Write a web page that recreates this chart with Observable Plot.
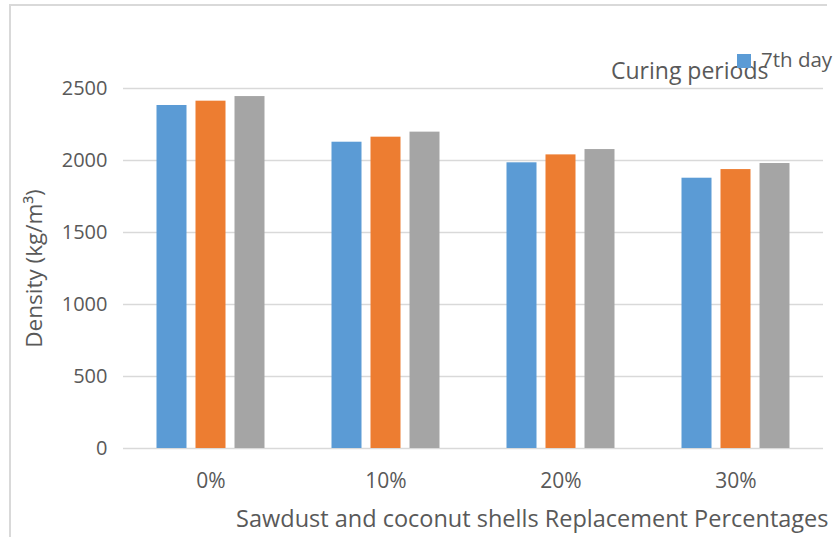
<!DOCTYPE html>
<html>
<head>
<meta charset="utf-8">
<script src="https://cdn.jsdelivr.net/npm/d3@7"></script>
<script src="https://cdn.jsdelivr.net/npm/@observablehq/plot@0.6"></script>
<style>
  html, body { margin: 0; padding: 0; background: #fff; overflow: hidden; }
  #wrap { position: relative; width: 835px; height: 537px; overflow: hidden; font-family: "Open Sans", sans-serif; color: #595959; }
  #frame { position: absolute; left: 9px; top: 4px; width: 816px; height: 600px; border-top: 2px solid #d9d9d9; border-left: 2px solid #d9d9d9; pointer-events: none; }
  #chart { position: absolute; left: 0; top: 0; }
  #chart svg g[aria-label="fx-axis label"] text { font-size: 23.5px; }
  #chart svg g[aria-label="y-axis label"] text { font-size: 22.5px; }
  #chart svg g[aria-label="fx-axis tick label"] text { font-size: 21px; }
  #legend { position: absolute; left: 737px; top: 46px; white-space: nowrap; font-size: 20.5px; line-height: 26px; }
  .item { display: inline-flex; align-items: center; margin-right: 10px; }
  .sw { display: inline-block; width: 14px; height: 14px; margin-right: 10px; margin-top: 3px; }
  #ltitle { position: absolute; left: 611px; top: 56px; font-size: 23px; line-height: 28px; white-space: nowrap; }
</style>
</head>
<body>
<div id="wrap">
  <div id="chart"></div>
  <div id="frame"></div>
  <div id="ltitle"></div>
  <div id="legend"></div>
</div>
<script>
const categories = ["0%", "10%", "20%", "30%"];
const series = ["7th day", "14th day", "28th day"];
const day7 = [2382, 2127, 1984, 1877];
const day14 = [2412, 2162, 2039, 1937];
const day28 = [2444, 2197, 2076, 1979];
const yTicks = [0, 500, 1000, 1500, 2000, 2500];
const colors = ["#5b9bd5", "#ed7d31", "#a5a5a5"];
const legendTitle = "Curing periods";
const legendShown = ["7th day"]; // only this entry is visible in the cropped legend
const xTitle = "Sawdust and coconut shells Replacement Percentages";
const yTitle = "Density (kg/m³)";

const values = [day7, day14, day28];
const data = categories.flatMap((c, i) => series.map((s, j) => ({category: c, series: s, value: values[j][i]})));

const chart = Plot.plot({
  width: 835,
  height: 537,
  marginLeft: 122.5,
  marginRight: 12.5,
  marginTop: 88,
  marginBottom: 89,
  style: {fontFamily: "Open Sans, sans-serif", fontSize: "20px", color: "#595959", background: "transparent"},
  fx: {domain: categories, padding: 0, axis: "bottom", tickSize: 0, tickPadding: 25, label: xTitle, labelAnchor: "right", labelOffset: 78, labelArrow: false},
  x: {domain: series, paddingInner: 9 / 39, paddingOuter: 33.5 / 39, axis: null},
  y: {domain: [0, 2500], ticks: yTicks, tickFormat: d3.format("d"), tickSize: 0, tickPadding: 16, label: yTitle, labelAnchor: "center", labelOffset: 97, labelArrow: false},
  color: {domain: series, range: colors},
  marks: [
    Plot.ruleY(yTicks, {stroke: "#d9d9d9", strokeWidth: 1.5}),
    Plot.barY(data, {fx: "category", x: "series", y: "value", fill: "series"})
  ]
});
d3.select(chart).selectAll('g[aria-label="fx-axis label"] text').attr("dx", -4);
document.getElementById("chart").appendChild(chart);

document.getElementById("ltitle").textContent = legendTitle;
const leg = document.getElementById("legend");
legendShown.forEach((s) => {
  const i = series.indexOf(s);
  const it = document.createElement("span");
  it.className = "item";
  const sw = document.createElement("span");
  sw.className = "sw";
  sw.style.background = colors[i];
  it.appendChild(sw);
  it.appendChild(document.createTextNode(s));
  leg.appendChild(it);
});
</script>
</body>
</html>
